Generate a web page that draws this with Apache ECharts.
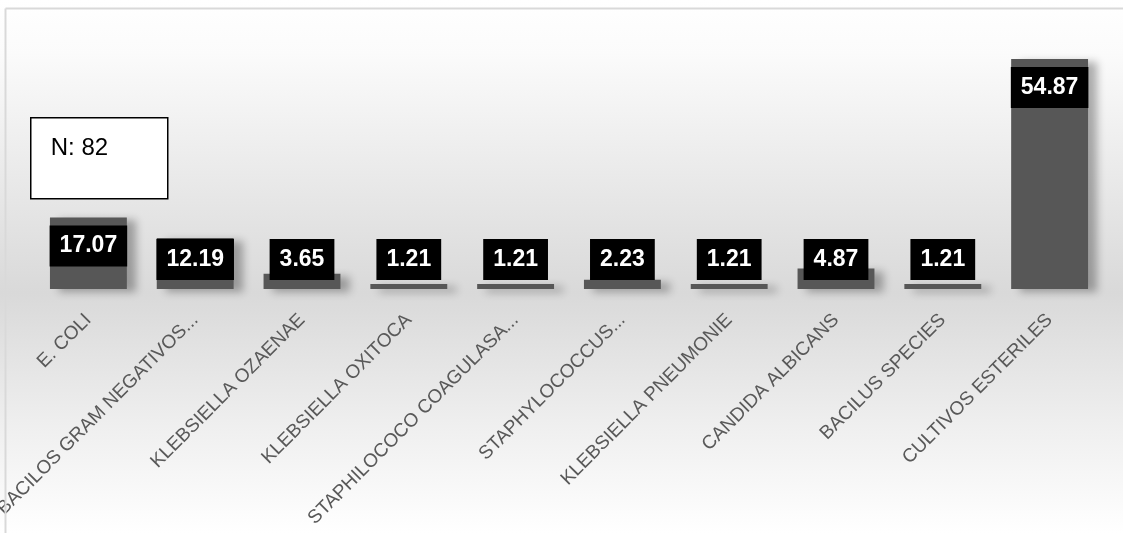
<!DOCTYPE html>
<html>
<head>
<meta charset="utf-8">
<script src="https://cdn.jsdelivr.net/npm/echarts@6/dist/echarts.min.js"></script>
<style>
    html, body { margin: 0; padding: 0; background: #fff; }
    #chart { width: 1123px; height: 533px; }
</style>
</head>
<body>
<div id="chart"></div>
<script>
    // categorias (tal como aparecen en el grafico)
    const categories = [
        'E. COLI',
        'BACILOS GRAM NEGATIVOS...',
        'KLEBSIELLA OZAENAE',
        'KLEBSIELLA OXITOCA',
        'STAPHILOCOCO COAGULASA...',
        'STAPHYLOCOCCUS...',
        'KLEBSIELLA PNEUMONIE',
        'CANDIDA ALBICANS',
        'BACILUS SPECIES',
        'CULTIVOS ESTERILES'
    ]
    // porcentajes
    const percentages = [17.07, 12.19, 3.65, 1.21, 1.21, 2.23, 1.21, 4.87, 1.21, 54.87]
    const noteText = 'N: 82'

    const chart = echarts.init(document.getElementById('chart'))

    const seriesData = percentages.map(v => ({
        value: v,
        label: v > 15
            ? { position: 'insideTop', distance: 8 }
            : { position: 'insideBottom', distance: 9 }
    }))

    chart.setOption({
        animation: false,
        backgroundColor: new echarts.graphic.LinearGradient(0, 0, 0, 1, [
            { offset: 0, color: '#ffffff' },
            { offset: 0.1, color: '#fbfbfb' },
            { offset: 0.55, color: '#d9d9d9' },
            { offset: 0.8, color: '#efefef' },
            { offset: 1, color: '#ffffff' }
        ]),
        grid: {
            left: 35,
            right: 20,
            top: 37.5,
            bottom: 244,
            containLabel: false,
            outerBoundsMode: 'none'
        },
        xAxis: {
            type: 'category',
            data: categories,
            axisLine: { show: false },
            axisTick: { show: false },
            axisLabel: {
                rotate: 45,
                interval: 0,
                margin: 28,
                color: '#595959',
                fontSize: 19,
                fontFamily: 'Liberation Sans, Arial, sans-serif'
            }
        },
        yAxis: {
            type: 'value',
            min: 0,
            max: 60,
            show: false,
            splitLine: { show: false }
        },
        graphic: [
            {
                type: 'line',
                shape: { x1: 5.5, y1: 8.5, x2: 1123, y2: 8.5 },
                style: { stroke: '#d9d9d9', lineWidth: 2 },
                z: 100
            },
            {
                type: 'line',
                shape: { x1: 5.5, y1: 8.5, x2: 5.5, y2: 533 },
                style: { stroke: '#d9d9d9', lineWidth: 2 },
                z: 100
            },
            {
                type: 'group',
                left: 30,
                top: 117,
                children: [
                    {
                        type: 'rect',
                        shape: { x: 0, y: 0, width: 137, height: 81 },
                        style: { fill: '#fff', stroke: '#000', lineWidth: 1.5 }
                    },
                    {
                        type: 'text',
                        x: 20,
                        y: 31,
                        style: {
                            text: noteText,
                            fill: '#000',
                            font: '24px Liberation Sans, Arial, sans-serif',
                            verticalAlign: 'middle'
                        }
                    }
                ]
            }
        ],
        series: [
            {
                type: 'bar',
                data: seriesData,
                barWidth: '72%',
                itemStyle: {
                    color: '#575757',
                    shadowColor: 'rgba(0, 0, 0, 0.3)',
                    shadowBlur: 8,
                    shadowOffsetX: 9,
                    shadowOffsetY: 3
                },
                label: {
                    show: true,
                    color: '#fff',
                    backgroundColor: '#000',
                    fontWeight: 'bold',
                    fontSize: 23,
                    lineHeight: 25,
                    padding: [8, 10, 8, 10],
                    fontFamily: 'Liberation Sans, Arial, sans-serif',
                    formatter: p => p.value.toFixed(2)
                }
            }
        ]
    })
</script>
</body>
</html>
